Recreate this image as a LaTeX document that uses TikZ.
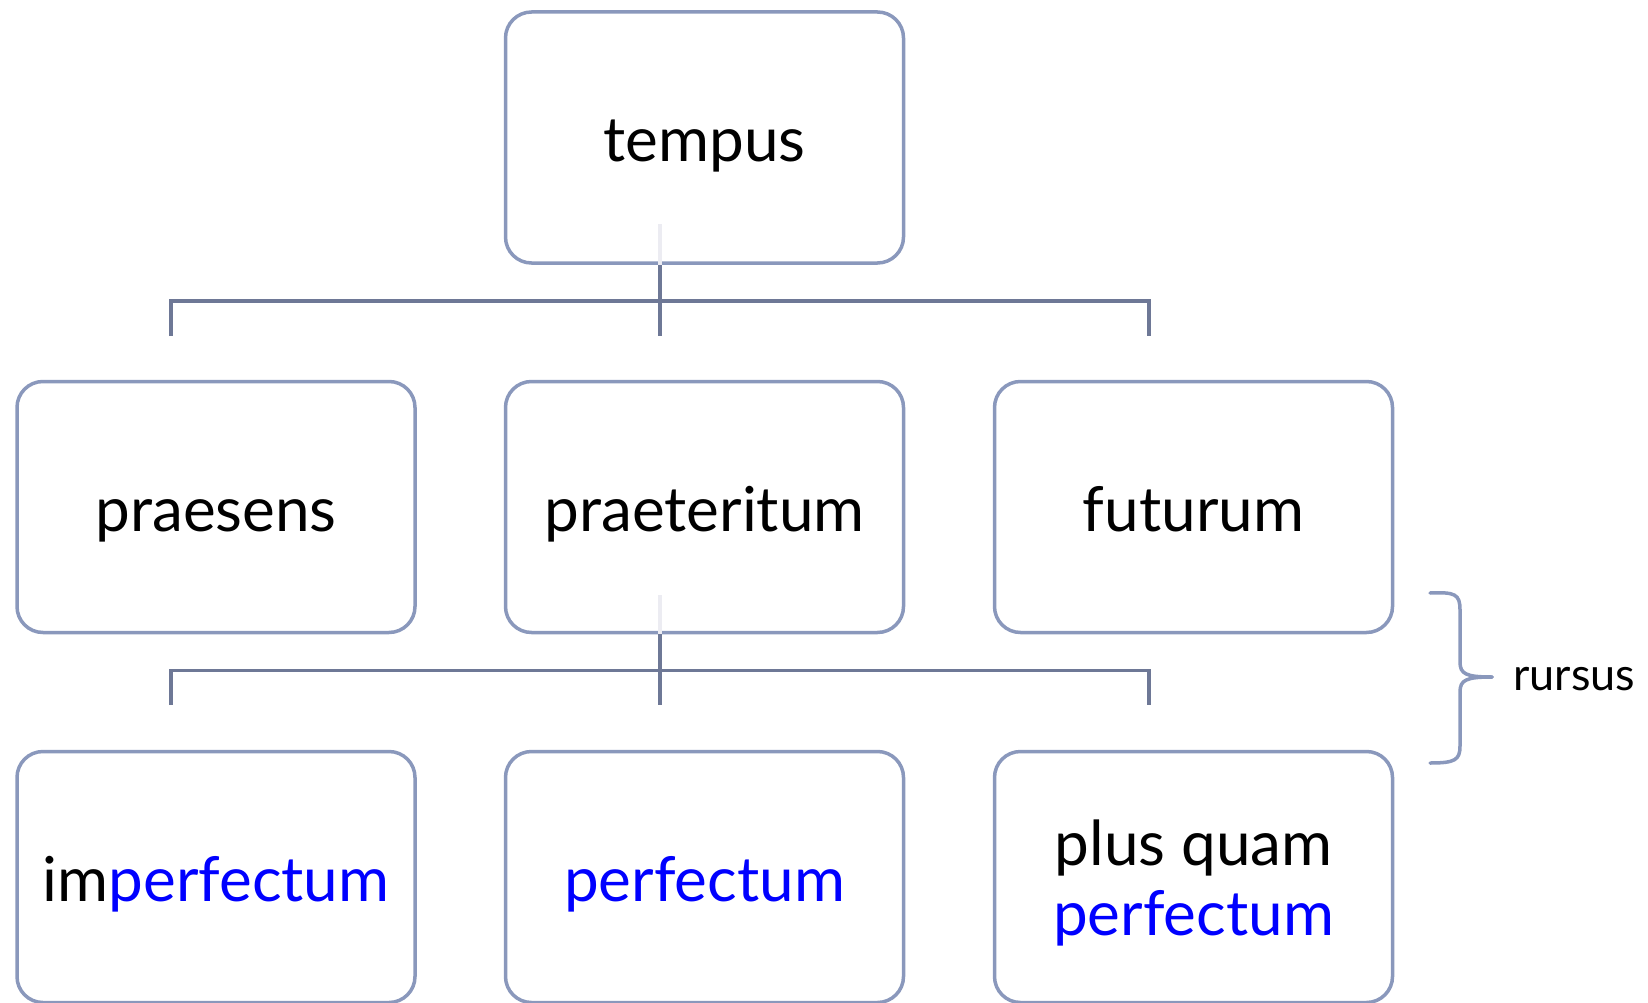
\documentclass[tikz,border=0pt]{standalone}
\usepackage{fontspec}
\setmainfont{Lato}
\definecolor{boxline}{HTML}{8A98BC}
\definecolor{conn}{HTML}{6E7896}
\definecolor{faint}{HTML}{ECECF2}
\definecolor{blu}{HTML}{0000FF}
\begin{document}
\begin{tikzpicture}[x=1pt,y=-1pt,
  box/.style={draw=boxline, line width=3.5pt, rounded corners=26pt, minimum width=398pt, minimum height=251pt, inner sep=0pt},
  lbl/.style={anchor=base, font=\fontsize{62}{70}\selectfont, inner sep=0pt, align=center},
  conline/.style={draw=conn, line width=3.5pt},
  faintline/.style={draw=faint, line width=3.5pt},
  bracestyle/.style={draw=boxline, line width=3.5pt, line cap=round},
  small/.style={anchor=base west, font=\fontsize{45}{50}\selectfont, inner sep=0pt}]
\useasboundingbox (0,0) rectangle (1648,1003);
% boxes
\node[box] (tempus) at (704.5,137.5) {};
\node[box] (praesens) at (216,507) {};
\node[box] (praeteritum) at (704.5,507) {};
\node[box] (futurum) at (1193.5,507) {};
\node[box] (imperfectum) at (216,877) {};
\node[box] (perfectum) at (704.5,877) {};
\node[box] (plusquam) at (1193.5,877) {};
% labels
\node[lbl] (tempusT) at ([yshift=-24pt]tempus.center) {tempus};
\node[lbl] (praesensT) at ([yshift=-24pt]praesens.center) {praesens};
\node[lbl] (praeteritumT) at ([yshift=-24pt]praeteritum.center) {praeteritum};
\node[lbl] (futurumT) at ([yshift=-24pt]futurum.center) {futurum};
\node[lbl] (imperfectumT) at ([yshift=-24pt]imperfectum.center) {im\textcolor{blu}{perfectum}};
\node[lbl] (perfectumT) at ([yshift=-24pt]perfectum.center) {\textcolor{blu}{perfectum}};
\node[lbl] (plusquamT) at (1193.5,935) {plus quam\\\textcolor{blu}{perfectum}};
% connector 1
\coordinate (a0) at (660,224);
\coordinate (a1) at (660,265);
\coordinate (a2) at (660,301);
\coordinate (a3) at (660,336);
\coordinate (aL) at (171,301);
\coordinate (aLd) at (171,336);
\coordinate (aR) at (1149,301);
\coordinate (aRd) at (1149,336);
\draw[faintline] (a0) -- (a1);
\draw[conline] (a1) -- (a3);
\draw[conline] (aLd) -- (aL) -- (aR) -- (aRd);
% connector 2
\coordinate (b0) at (660,595);
\coordinate (b1) at (660,634);
\coordinate (b2) at (660,670.5);
\coordinate (b3) at (660,705);
\coordinate (bL) at (171,670.5);
\coordinate (bLd) at (171,705);
\coordinate (bR) at (1149,670.5);
\coordinate (bRd) at (1149,705);
\draw[faintline] (b0) -- (b1);
\draw[conline] (b1) -- (b3);
\draw[conline] (bLd) -- (bL) -- (bR) -- (bRd);
% brace
\coordinate (brT) at (1430,593);
\coordinate (brM) at (1492,677);
\coordinate (brB) at (1430,763);
\draw[bracestyle] (brT) .. controls (1455,592) and (1460,594) .. (1460,610)
  -- (1460,662) .. controls (1460,674) and (1466,677) .. (brM);
\draw[bracestyle] (brM) .. controls (1466,677) and (1460,680) .. (1460,692)
  -- (1460,746) .. controls (1460,760) and (1455,763) .. (brB);
\node[small] (rursus) at (1513,690) {rursus};
\end{tikzpicture}
\end{document}
